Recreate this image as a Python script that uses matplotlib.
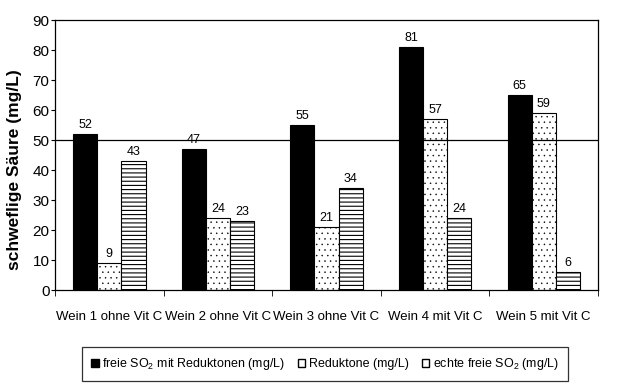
import numpy as np
import matplotlib
matplotlib.use("Agg")
import matplotlib.pyplot as plt
from matplotlib.patches import Patch

plt.rcParams['font.family'] = ['Liberation Sans', 'DejaVu Sans']
plt.rcParams['mathtext.default'] = 'regular'

# data
weine = ['Wein 1 ohne Vit C', 'Wein 2 ohne Vit C', 'Wein 3 ohne Vit C',
         'Wein 4 mit Vit C', 'Wein 5 mit Vit C']
frei_mit_red = [52, 47, 55, 81, 65]
reduktone = [9, 24, 21, 57, 59]
echte_frei = [43, 23, 34, 24, 6]
grenzwert = 50
serien = ['freie SO$_2$ mit Reduktonen (mg/L)', 'Reduktone (mg/L)',
          'echte freie SO$_2$ (mg/L)']

fig = plt.figure(figsize=(6.26, 3.89), dpi=100)
ax = fig.add_axes([55/626, 1 - 290/389, 543/626, 270/389])

x = np.arange(len(weine))
w = 1 / 4.5
styles = [dict(color='black', edgecolor='black'),
          dict(facecolor='white', edgecolor='black', hatch='...'),
          dict(facecolor='white', edgecolor='black', hatch='----')]
hatch_lw = [0.8, 0.3, 0.8]
for i, (vals, st) in enumerate(zip([frei_mit_red, reduktone, echte_frei], styles)):
    plt.rcParams['hatch.linewidth'] = hatch_lw[i]
    pos = x + (i - 1) * w
    ax.bar(pos, vals, w, linewidth=0.8, **st)
    for xp, v in zip(pos, vals):
        ax.text(xp, v + 1, str(v), ha='center', va='bottom', fontsize=9)

ax.axhline(grenzwert, color='black', linewidth=0.9)

ax.set_xlim(-0.5, len(weine) - 0.5)
ax.set_ylim(0, 90)
ax.set_yticks(range(0, 91, 10))
ax.set_xticks(np.arange(len(weine) + 1) - 0.5, minor=True)
ax.set_xticks(x)
ax.set_xticklabels(weine, fontsize=9.5)
ax.tick_params(axis='x', which='major', length=0, pad=15)
ax.tick_params(axis='x', which='minor', length=4, direction='out')
ax.tick_params(axis='y', length=3, direction='out', labelsize=11, pad=1)
for s in ax.spines.values():
    s.set_linewidth(0.9)

ax.set_ylabel('schweflige Säure (mg/L)', fontsize=12.5, fontweight='heavy')
ax.yaxis.set_label_coords(-0.06, 0.444)

handles = [Patch(facecolor='black', edgecolor='black'),
           Patch(facecolor='white', edgecolor='black'),
           Patch(facecolor='white', edgecolor='black')]
leg = fig.legend(handles, serien, loc='center', ncol=3,
                 bbox_to_anchor=(325/626, 1 - 364/389),
                 fontsize=9, frameon=True, fancybox=False,
                 handlelength=0.6, handleheight=0.6, handletextpad=0.3,
                 columnspacing=1.0, borderpad=0.7)
leg.get_frame().set_edgecolor('black')
leg.get_frame().set_linewidth(0.9)

fig.savefig('out.png', dpi=100)
